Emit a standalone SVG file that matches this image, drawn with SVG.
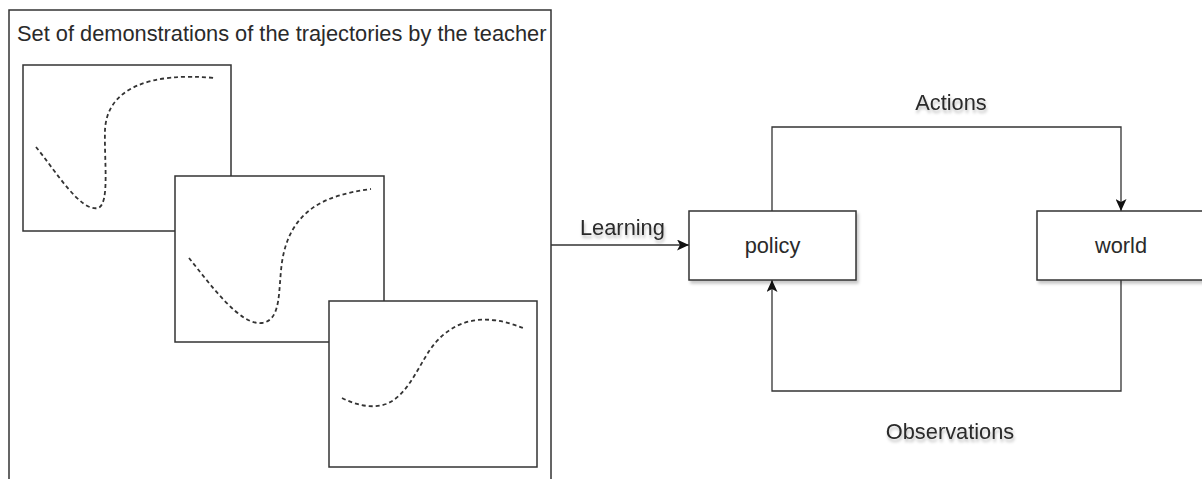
<svg xmlns="http://www.w3.org/2000/svg" width="1202" height="479" viewBox="0 0 1202 479">
  <style>
    .frame { fill: #ffffff; stroke: #333333; stroke-width: 1.5; }
    .node { fill: #ffffff; stroke: #333333; stroke-width: 1.5; filter: url(#shadow); }
    .traj { fill: none; stroke: #333333; stroke-width: 1.8; stroke-dasharray: 4 3; }
    .wire { fill: none; stroke: #333333; stroke-width: 1.3; }
    .label { font-family: "Liberation Sans", Arial, sans-serif; font-size: 21.8px; fill: #2a2a2a; }
    .soft { filter: url(#tshadow); }
  </style>
  <defs>
    <filter id="shadow" x="-10%" y="-10%" width="130%" height="140%">
      <feDropShadow dx="2" dy="3" stdDeviation="1.5" flood-color="#000000" flood-opacity="0.22"/>
    </filter>
    <filter id="tshadow" x="-10%" y="-30%" width="130%" height="180%">
      <feDropShadow dx="1" dy="3" stdDeviation="1.5" flood-color="#000000" flood-opacity="0.25"/>
    </filter>
    <marker id="arrow" markerWidth="13" markerHeight="11" refX="12" refY="5.5" orient="auto" markerUnits="userSpaceOnUse">
      <path d="M0,0 L12,5.5 L0,11 L3,5.5 Z" fill="#111111"/>
    </marker>
  </defs>

  <!-- demonstration set -->
  <g id="demonstrations">
    <rect class="frame" x="9" y="10" width="542" height="480"/>
    <text class="label" x="17" y="41">Set of demonstrations of the trajectories by the teacher</text>
  </g>

  <g id="demo1">
    <rect class="frame" x="23" y="65" width="208" height="166"/>
    <path class="traj" d="M36,147 C55,170 80,212 98,208 C110,204 104,160 105,130 C107,88 150,72 215,78"/>
  </g>

  <g id="demo2">
    <rect class="frame" x="175" y="176" width="209" height="166"/>
    <path class="traj" d="M189,258 C210,284 240,326 262,323 C282,320 278,290 282,262 C290,210 325,195 371,189"/>
  </g>

  <g id="demo3">
    <rect class="frame" x="329" y="301" width="208" height="166"/>
    <path class="traj" d="M342,398 C356,405 372,409 386,404 C410,395 420,360 436,342 C452,324 472,318 492,320 C505,321 514,325 523,328"/>
  </g>

  <!-- connectors -->
  <g id="connectors">
    <path class="wire" d="M551,245 L689,245" marker-end="url(#arrow)"/>
    <path class="wire" d="M772,211 L772,127 L1121,127 L1121,211" marker-end="url(#arrow)"/>
    <path class="wire" d="M1121,280 L1121,391 L772,391 L772,280" marker-end="url(#arrow)"/>
    <text class="label soft" x="580" y="235">Learning</text>
    <text class="label soft" x="951" y="110" text-anchor="middle">Actions</text>
    <text class="label soft" x="950" y="439" text-anchor="middle">Observations</text>
  </g>

  <g id="policy">
    <rect class="node" x="689" y="211" width="167" height="69"/>
    <text class="label" x="772.5" y="253" text-anchor="middle">policy</text>
  </g>

  <g id="world">
    <rect class="node" x="1037" y="211" width="167" height="69"/>
    <text class="label" x="1121" y="253" text-anchor="middle">world</text>
  </g>
</svg>
